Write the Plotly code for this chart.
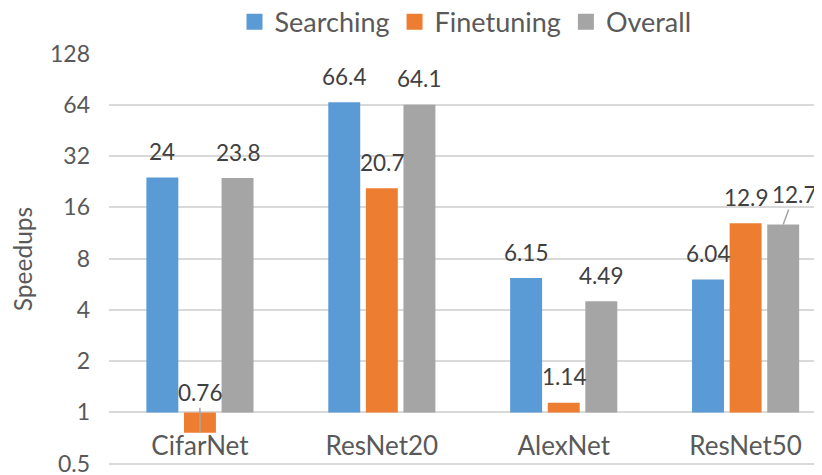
import math
import plotly.graph_objects as go

models = ['CifarNet', 'ResNet20', 'AlexNet', 'ResNet50']
searching = [24, 66.4, 6.15, 6.04]
finetuning = [0.76, 20.7, 1.14, 12.9]
overall = [23.8, 64.1, 4.49, 12.7]

y_ticks = [0.5, 1, 2, 4, 8, 16, 32, 64, 128]

COLORS = {
    'Searching': '#5B9BD5',
    'Finetuning': '#ED7D31',
    'Overall': '#A5A5A5',
}

FONT = 'Lato'
BASE = 1

series = [('Searching', searching), ('Finetuning', finetuning), ('Overall', overall)]

fig = go.Figure()
for name, vals in series:
    fig.add_trace(go.Bar(
        x=list(range(len(models))),
        y=[v - BASE for v in vals],
        base=BASE,
        name=name,
        showlegend=False,
        marker=dict(color=COLORS[name], line=dict(width=0)),
    ))
    # entrée de légende avec un carré plus grand (comme Excel)
    fig.add_trace(go.Scatter(
        x=[None], y=[None], mode='markers', name=name,
        marker=dict(symbol='square', size=16, color=COLORS[name]),
    ))

# etiquettes de données
bargap = 0.38
slot = (1 - bargap) / len(series)
annotations = []
for k, (name, vals) in enumerate(series):
    off = (k - 1) * slot
    for i, v in enumerate(vals):
        a = dict(x=i + off, y=math.log10(v), xref='x', yref='y', text=f'{v:g}',
                 showarrow=False, yshift=26,
                 font=dict(family=FONT, size=22.5, color='#404040'))
        if v < BASE:
            # label au-dessus de la ligne 1, trait de rappel
            a.update(showarrow=True, arrowhead=0, arrowwidth=1.5, arrowcolor='#A5A5A5',
                     ax=0, ay=-40, yshift=0, standoff=0)
        elif name == 'Overall' and models[i] == 'ResNet50':
            a.update(showarrow=True, arrowhead=0, arrowwidth=1.5, arrowcolor='#A5A5A5',
                     ax=11, ay=-30, yshift=0, standoff=0)
        annotations.append(a)

r0 = math.log10(0.5) - 0.008
r1 = math.log10(128) + 0.004
x_pos = (0 - r0) / (r1 - r0)

# la page ajoute une marge de 8 px autour de la figure
fig.update_layout(
    width=814,
    height=467,
    margin=dict(l=101, r=0, t=45, b=10, autoexpand=False),
    paper_bgcolor='white',
    plot_bgcolor='white',
    barmode='group',
    bargap=bargap,
    bargroupgap=0.15,
    font=dict(family=FONT, color='#595959'),
    showlegend=True,
    legend=dict(
        orientation='h',
        x=0.5, xanchor='center',
        y=1.075, yanchor='middle',
        font=dict(family=FONT, size=27, color='#595959'),
        bgcolor='rgba(0,0,0,0)',
        itemsizing='trace',
    ),
    xaxis=dict(
        tickmode='array',
        tickvals=list(range(len(models))),
        ticktext=models,
        range=[-0.5, 3.42],
        anchor='free',
        position=x_pos,
        showline=False,
        showgrid=False,
        zeroline=False,
        ticks='',
        ticklabelstandoff=16,
        tickfont=dict(family=FONT, size=26, color='#595959'),
    ),
    yaxis=dict(
        type='log',
        range=[r0, r1],
        tickmode='array',
        tickvals=y_ticks,
        ticktext=[f'{t:g}' for t in y_ticks],
        showgrid=True,
        gridcolor='#D9D9D9',
        gridwidth=1.5,
        showline=False,
        zeroline=False,
        ticks='',
        ticklabelstandoff=18,
        ticklabeloverflow='allow',
        tickfont=dict(family=FONT, size=23, color='#595959'),
        title=dict(text='Speedups', standoff=10,
                   font=dict(family=FONT, size=24.5, color='#595959')),
    ),
    annotations=annotations,
)

fig.write_html('out.html')
